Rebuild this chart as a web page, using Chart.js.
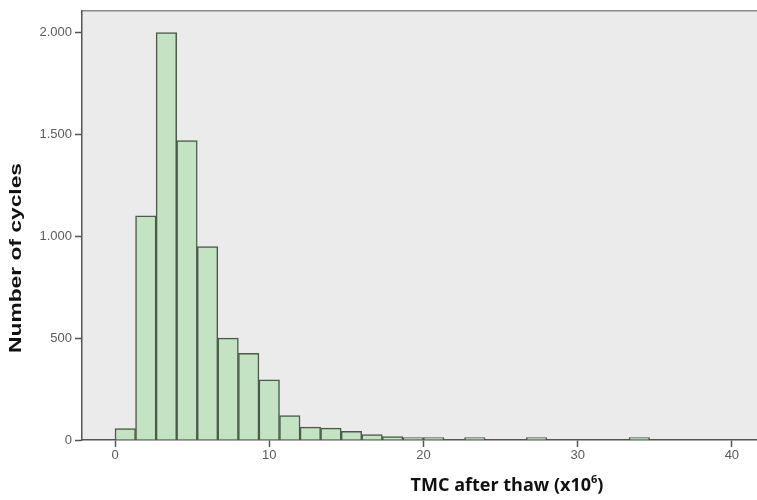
<!DOCTYPE html>
<html>
<head>
<meta charset="utf-8">
<script src="https://cdn.jsdelivr.net/npm/chart.js@4/dist/chart.umd.min.js"></script>
<style>
  html, body { margin: 0; padding: 0; background: #ffffff; }
  #wrap { width: 757px; height: 500px; }
</style>
</head>
<body>
<div id="wrap"><canvas id="c" width="757" height="500"></canvas></div>
<script>
// lower edge of each histogram bin (bins are 4/3 wide)
const binLower = [0, 4/3, 8/3, 12/3, 16/3, 20/3, 24/3, 28/3, 32/3, 36/3,
  40/3, 44/3, 48/3, 52/3, 56/3, 60/3, 64/3, 68/3, 72/3, 76/3,
  80/3, 84/3, 88/3, 92/3, 96/3, 100/3, 104/3, 108/3, 112/3, 116/3];
const binWidth = 4 / 3;

// number of cycles per bin
const cycleCounts = [56, 1100, 2000, 1470, 950, 500, 425, 295, 120, 63,
  58, 42, 27, 17, 2, 8, 0, 3, 0, 0,
  2, 0, 0, 0, 0, 3, 0, 0, 0, 0];

const xTicks = [0, 10, 20, 30, 40];
const yTicks = [0, 500, 1000, 1500, 2000];

// empty bins get no bar at all
const points = binLower.map((lo, i) => ({
  x: lo + binWidth / 2,
  y: cycleCounts[i] > 0 ? cycleCounts[i] : null
}));

// thousands with a dot, as in the source
function fmt(v) {
  return String(v).replace(/\B(?=(\d{3})+(?!\d))/g, ".");
}

const frame = {
  id: "frame",
  beforeDraw(chart) {
    const { ctx, chartArea: a } = chart;
    ctx.save();
    ctx.fillStyle = "#ffffff";
    ctx.fillRect(0, 0, chart.width, chart.height);
    ctx.fillStyle = "#ebebeb";
    ctx.fillRect(a.left, a.top, a.right - a.left, a.bottom - a.top);
    ctx.strokeStyle = "#8c8c8c";
    ctx.lineWidth = 1.5;
    ctx.beginPath();
    ctx.moveTo(a.left, a.top);
    ctx.lineTo(a.right, a.top);
    ctx.stroke();
    ctx.restore();
  },
  afterDraw(chart) {
    const { ctx } = chart;
    ctx.save();
    ctx.fillStyle = "#111111";

    // y axis title, rotated and slightly stretched
    ctx.font = "bold 17px 'Liberation Sans', Arial, sans-serif";
    const yt = "Number of cycles";
    const w = ctx.measureText(yt).width;
    ctx.translate(16, 258);
    ctx.rotate(-Math.PI / 2);
    ctx.scale(190 / w, 1);
    ctx.textAlign = "center";
    ctx.textBaseline = "middle";
    ctx.fillText(yt, 0, 0);
    ctx.setTransform(1, 0, 0, 1, 0, 0);

    // x axis title with superscript exponent
    ctx.textAlign = "left";
    ctx.textBaseline = "alphabetic";
    const p1 = "TMC after thaw (x10";
    const p2 = "6";
    const p3 = ")";
    ctx.font = "bold 18px 'Open Sans', sans-serif";
    const w1 = ctx.measureText(p1).width;
    const w3 = ctx.measureText(p3).width;
    ctx.font = "bold 11px 'Open Sans', sans-serif";
    const w2 = ctx.measureText(p2).width;
    let x = 507 - (w1 + w2 + w3) / 2;
    const base = 491;
    ctx.font = "bold 18px 'Open Sans', sans-serif";
    ctx.fillText(p1, x, base);
    x += w1;
    ctx.font = "bold 11px 'Open Sans', sans-serif";
    ctx.fillText(p2, x, base - 8);
    x += w2;
    ctx.font = "bold 18px 'Open Sans', sans-serif";
    ctx.fillText(p3, x, base);
    ctx.restore();
  }
};

const tickFont = { family: "'Liberation Sans', Arial, sans-serif", size: 13 };

new Chart(document.getElementById("c"), {
  type: "bar",
  data: {
    datasets: [{
      data: points,
      backgroundColor: "#c3e3c3",
      borderColor: "#4b5a4b",
      borderWidth: 1.5,
      borderSkipped: "start",
      minBarLength: 2.5,
      barPercentage: 1,
      categoryPercentage: 1
    }]
  },
  options: {
    responsive: false,
    animation: false,
    layout: { padding: { top: 8, right: 0, left: 0, bottom: 0 } },
    plugins: { legend: { display: false }, tooltip: { enabled: false } },
    scales: {
      x: {
        type: "linear",
        offset: false,
        min: -2.14,
        max: 41.63,
        afterBuildTicks(s) { s.ticks = xTicks.map(v => ({ value: v })); },
        afterFit(s) { s.height = 60; },
        grid: { offset: false, drawOnChartArea: false, drawTicks: true, tickLength: 7, tickColor: "#555555", tickWidth: 1.5 },
        border: { display: true, color: "#555555", width: 1.5 },
        ticks: { color: "#5a5a5a", font: tickFont, padding: 1, maxRotation: 0 }
      },
      y: {
        min: 0,
        max: 2107,
        afterBuildTicks(s) { s.ticks = yTicks.map(v => ({ value: v })); },
        afterFit(s) { s.width = 82; },
        grid: { drawOnChartArea: false, drawTicks: true, tickLength: 7, tickColor: "#555555", tickWidth: 1.5 },
        border: { display: true, color: "#555555", width: 1.5 },
        ticks: { color: "#5a5a5a", font: tickFont, padding: 3, callback: v => fmt(v) }
      }
    }
  },
  plugins: [frame]
});
</script>
</body>
</html>
